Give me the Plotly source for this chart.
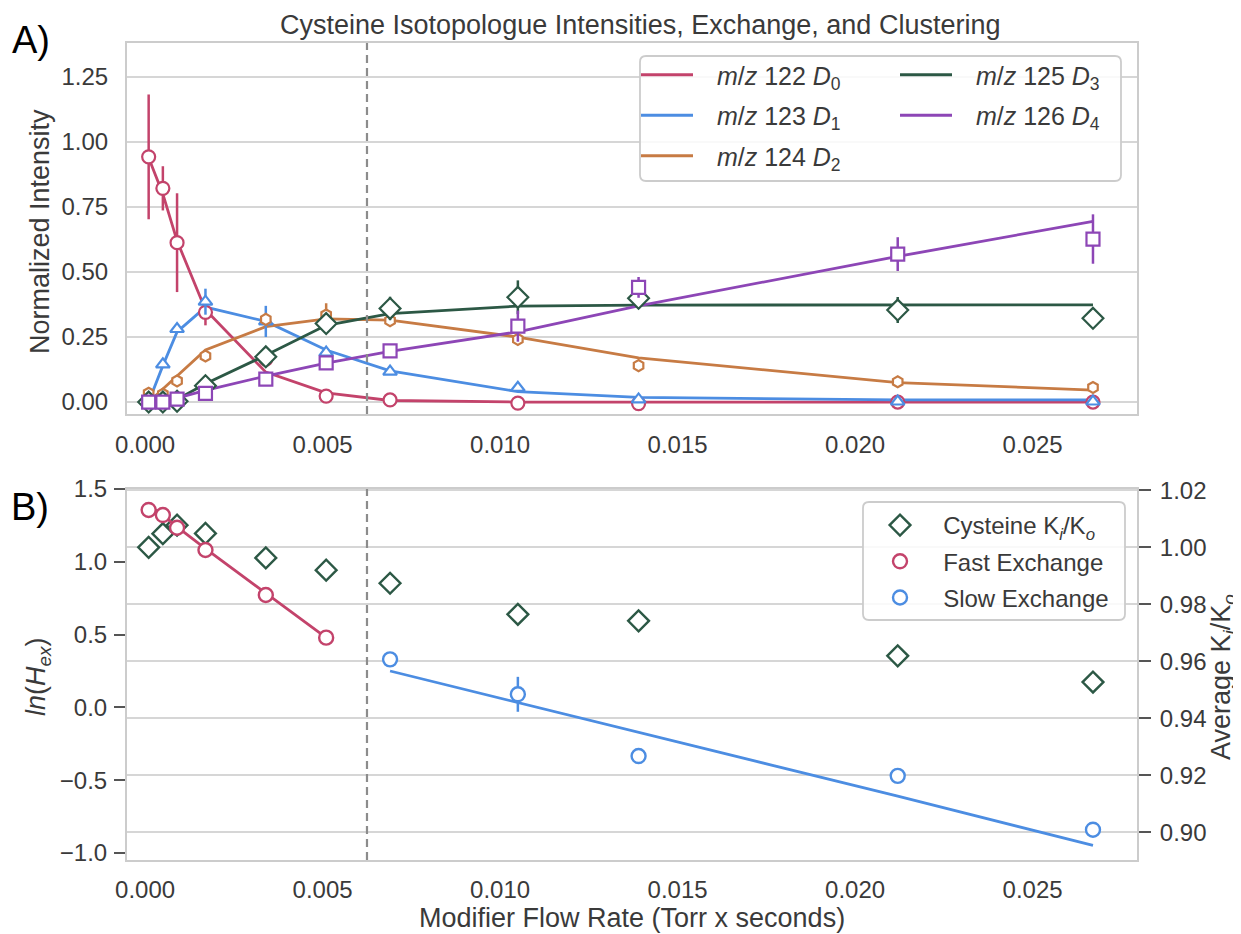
import plotly.graph_objects as go

# ---------------- data ----------------
flow = [0.0001, 0.0005, 0.0009, 0.0017, 0.0034, 0.0051, 0.0069, 0.0105, 0.0139, 0.0212, 0.0267]

d0 = [0.943, 0.822, 0.613, 0.345, 0.165, 0.023, 0.008, -0.004, -0.006, 0.0, 0.0]
d0_err = [0.24, 0.085, 0.19, 0.05, 0, 0, 0, 0, 0, 0, 0]
d0_fit = [0.94, 0.80, 0.62, 0.355, 0.115, 0.035, 0.006, 0.0, 0.0, 0.0, 0.0]

d1 = [0.0, 0.145, 0.281, 0.386, 0.31, 0.19, 0.117, 0.055, 0.01, 0.002, 0.002]
d1_err = [0, 0, 0, 0.05, 0.06, 0, 0, 0, 0, 0, 0]
d1_fit = [0.0, 0.14, 0.27, 0.365, 0.31, 0.20, 0.12, 0.04, 0.018, 0.008, 0.008]

d2 = [0.034, 0.03, 0.081, 0.177, 0.318, 0.335, 0.313, 0.241, 0.14, 0.078, 0.056]
d2_err = [0, 0, 0, 0, 0.02, 0.045, 0.02, 0.01, 0.02, 0.01, 0.01]
d2_fit = [0.0, 0.05, 0.10, 0.20, 0.29, 0.32, 0.315, 0.25, 0.17, 0.075, 0.046]

d3 = [0.0, 0.0, 0.003, 0.063, 0.174, 0.302, 0.36, 0.403, 0.399, 0.354, 0.322]
d3_err = [0, 0, 0, 0, 0.02, 0.02, 0.045, 0.065, 0.04, 0.05, 0.01]
d3_fit = [0.0, 0.002, 0.01, 0.07, 0.18, 0.295, 0.34, 0.369, 0.373, 0.374, 0.374]

d4 = [0.0, 0.0, 0.011, 0.033, 0.088, 0.151, 0.197, 0.292, 0.441, 0.569, 0.627]
d4_err = [0, 0, 0, 0, 0, 0.01, 0.01, 0.06, 0.04, 0.065, 0.095]
d4_fit = [0.0, 0.005, 0.015, 0.045, 0.10, 0.15, 0.195, 0.27, 0.37, 0.56, 0.695]

kiko = [1.000, 1.0048, 1.0078, 1.0049, 0.9963, 0.992, 0.9874, 0.9765, 0.9742, 0.9619, 0.9527]
kiko_err = [0.0005, 0.0005, 0.0005, 0.0005, 0.0005, 0.0005, 0.0005, 0.001, 0.003, 0.001, 0.001]

fast_x = flow[:6]
fast = [1.356, 1.321, 1.234, 1.081, 0.772, 0.479]
fast_fit = [1.39, 1.32, 1.24, 1.09, 0.785, 0.48]

slow_x = flow[6:]
slow = [0.330, 0.090, -0.334, -0.47, -0.84]
slow_err = [0.0, 0.12, 0.03, 0.02, 0.03]
slow_fit = [0.25, 0.034, -0.173, -0.61, -0.947]

cutoff = 0.00625

x_ticks = [0.0, 0.005, 0.010, 0.015, 0.020, 0.025]
x_tick_labels = ["0.000", "0.005", "0.010", "0.015", "0.020", "0.025"]
yA_ticks = [0.0, 0.25, 0.5, 0.75, 1.0, 1.25]
yA_tick_labels = ["0.00", "0.25", "0.50", "0.75", "1.00", "1.25"]
yB_ticks = [-1.0, -0.5, 0.0, 0.5, 1.0, 1.5]
yB_tick_labels = ["\u22121.0", "\u22120.5", "0.0", "0.5", "1.0", "1.5"]
yR_ticks = [0.90, 0.92, 0.94, 0.96, 0.98, 1.00, 1.02]
yR_tick_labels = ["0.90", "0.92", "0.94", "0.96", "0.98", "1.00", "1.02"]

SP = "\u00a0\u00a0\u2009"
names = [SP + "<i>m</i>/<i>z</i> 122 <i>D</i><sub>0</sub>",
         SP + "<i>m</i>/<i>z</i> 123 <i>D</i><sub>1</sub>",
         SP + "<i>m</i>/<i>z</i> 124 <i>D</i><sub>2</sub>",
         SP + "<i>m</i>/<i>z</i> 125 <i>D</i><sub>3</sub>",
         SP + "<i>m</i>/<i>z</i> 126 <i>D</i><sub>4</sub>"]
names_b = [SP + "Cysteine K<sub><i>i</i></sub>/K<sub><i>o</i></sub>",
           SP + "Fast Exchange",
           SP + "Slow Exchange"]

# ---------------- style ----------------
OFF = 8                      # page body margin
W, H = 1241 - OFF, 934 - OFF  # figure size so the page fits the window
RED = "#C3436B"
BLUE = "#4C8DE2"
ORANGE = "#C77B44"
GREEN = "#2C5845"
PURPLE = "#8D46B6"
TXT = "#3a3a3a"
GRID = "#d6d6d6"
FRAME = "#cccccc"
FONT = "Liberation Sans, Arial, sans-serif"

def px_x(p):
    return (p - OFF) / W

def px_y(p):
    return 1 - (p - OFF) / H

fig = go.Figure()

series = [
    (d0, d0_err, d0_fit, RED, "circle", 13, "legend"),
    (d1, d1_err, d1_fit, BLUE, "triangle-up", 12, "legend"),
    (d2, d2_err, d2_fit, ORANGE, "hexagon", 11, "legend"),
    (d3, d3_err, d3_fit, GREEN, "diamond", 16, "legend2"),
    (d4, d4_err, d4_fit, PURPLE, "square", 13, "legend2"),
]

for i, (vals, err, fit, col, sym, size, leg) in enumerate(series):
    fig.add_trace(go.Scatter(
        x=flow, y=fit, mode="lines", line=dict(color=col, width=2.8),
        name=names[i], legend=leg, legendgroup="g%d" % i,
        xaxis="x", yaxis="y", hoverinfo="skip"))

for i, (vals, err, fit, col, sym, size, leg) in enumerate(series):
    fig.add_trace(go.Scatter(
        x=flow, y=vals, mode="markers",
        marker=dict(symbol=sym, size=size, color="white", line=dict(color=col, width=2.2)),
        error_y=dict(type="data", array=err, visible=True, color=col, thickness=2.5, width=0),
        showlegend=False, xaxis="x", yaxis="y"))

# bottom panel
fig.add_trace(go.Scatter(
    x=flow, y=kiko, mode="markers", name=names_b[0],
    marker=dict(symbol="diamond", size=16, color="white", line=dict(color=GREEN, width=2.4)),
    error_y=dict(type="data", array=kiko_err, visible=True, color=GREEN, thickness=2.5, width=0),
    legend="legend3", legendgroup="b0", xaxis="x2", yaxis="y2"))

fig.add_trace(go.Scatter(
    x=fast_x, y=fast_fit, mode="lines", line=dict(color=RED, width=2.8),
    showlegend=False, xaxis="x2", yaxis="y3", hoverinfo="skip"))
fig.add_trace(go.Scatter(
    x=slow_x, y=slow_fit, mode="lines", line=dict(color=BLUE, width=2.8),
    showlegend=False, xaxis="x2", yaxis="y3", hoverinfo="skip"))

fig.add_trace(go.Scatter(
    x=fast_x, y=fast, mode="markers", name=names_b[1],
    marker=dict(symbol="circle", size=14, color="white", line=dict(color=RED, width=2.4)),
    legend="legend3", legendgroup="b1", xaxis="x2", yaxis="y3"))
fig.add_trace(go.Scatter(
    x=slow_x, y=slow, mode="markers", name=names_b[2],
    marker=dict(symbol="circle", size=14, color="white", line=dict(color=BLUE, width=2.4)),
    error_y=dict(type="data", array=slow_err, visible=True, color=BLUE, thickness=2.5, width=0),
    legend="legend3", legendgroup="b2", xaxis="x2", yaxis="y3"))

xdom = [px_x(127), px_x(1137)]
xrange_ = [-0.00051, 0.02794]

TF = dict(size=24, color=TXT, family=FONT)
axis_common = dict(showline=True, linecolor=FRAME, linewidth=2, mirror=True, zeroline=False, tickfont=TF)

fig.update_layout(
    width=W, height=H,
    margin=dict(l=0, r=0, t=0, b=0, autoexpand=False),
    paper_bgcolor="white", plot_bgcolor="white",
    font=dict(family=FONT, color=TXT),
    xaxis=dict(domain=xdom, range=xrange_, anchor="y", tickvals=x_ticks, ticktext=x_tick_labels,
               showgrid=False, ticks="", ticklabelstandoff=8, **axis_common),
    yaxis=dict(domain=[px_y(414), px_y(43)], range=[-0.046, 1.381], anchor="x",
               tickvals=yA_ticks, ticktext=yA_tick_labels, showgrid=True, gridcolor=GRID, gridwidth=2,
               ticks="", ticklabelstandoff=12, **axis_common),
    xaxis2=dict(domain=xdom, range=xrange_, anchor="y2", tickvals=x_ticks, ticktext=x_tick_labels,
                showgrid=False, ticks="", ticklabelstandoff=7, **axis_common),
    yaxis2=dict(domain=[px_y(860), px_y(489)], range=[0.8902, 1.0205], anchor="x2", side="right",
                tickvals=yR_ticks, ticktext=yR_tick_labels, showgrid=True, gridcolor=GRID, gridwidth=2,
                ticks="outside", ticklen=12, tickwidth=2, tickcolor="#555555", ticklabelstandoff=4,
                **axis_common),
    yaxis3=dict(range=[-1.048, 1.5], overlaying="y2", anchor="x2", side="left",
                tickvals=yB_ticks, ticktext=yB_tick_labels, showgrid=False,
                ticks="outside", ticklen=11, tickwidth=2, tickcolor="#555555", ticklabelstandoff=2,
                showline=True, linecolor=FRAME, linewidth=2, zeroline=False, tickfont=TF),
    legend=dict(x=px_x(636), y=px_y(52), xanchor="left", yanchor="top", bgcolor="rgba(0,0,0,0)",
                borderwidth=0, itemwidth=52, tracegroupgap=5,
                font=dict(size=25, color=TXT, family=FONT)),
    legend2=dict(x=px_x(895), y=px_y(52), xanchor="left", yanchor="top", bgcolor="rgba(0,0,0,0)",
                 borderwidth=0, itemwidth=52, tracegroupgap=5,
                 font=dict(size=25, color=TXT, family=FONT)),
    legend3=dict(x=px_x(875), y=px_y(503), xanchor="left", yanchor="top", bgcolor="rgba(0,0,0,0)",
                 borderwidth=0, itemwidth=40, tracegroupgap=2,
                 font=dict(size=24, color=TXT, family=FONT)),
)

def rounded_box(x0, y0, x1, y1, r=6):
    X0, X1 = px_x(x0), px_x(x1)
    Y0, Y1 = px_y(y0), px_y(y1)
    rx, ry = r / W, r / H
    return (f"M{X0+rx},{Y0} L{X1-rx},{Y0} Q{X1},{Y0} {X1},{Y0-ry} "
            f"L{X1},{Y1+ry} Q{X1},{Y1} {X1-rx},{Y1} L{X0+rx},{Y1} Q{X0},{Y1} {X0},{Y1+ry} "
            f"L{X0},{Y0-ry} Q{X0},{Y0} {X0+rx},{Y0} Z")

shapes = [
    dict(type="line", xref="x", yref="y domain", x0=cutoff, x1=cutoff, y0=0, y1=1,
         line=dict(color="#8c8c8c", width=2.2, dash="8px,5px"), layer="above"),
    dict(type="line", xref="x2", yref="y2 domain", x0=cutoff, x1=cutoff, y0=0, y1=1,
         line=dict(color="#8c8c8c", width=2.2, dash="8px,5px"), layer="above"),
    dict(type="path", xref="paper", yref="paper", path=rounded_box(640, 56, 1121, 181),
         line=dict(color=FRAME, width=1.8), fillcolor="rgba(255,255,255,0.85)", layer="above"),
    dict(type="path", xref="paper", yref="paper", path=rounded_box(863, 502, 1125, 620),
         line=dict(color=FRAME, width=1.8), fillcolor="rgba(255,255,255,0.85)", layer="above"),
]
fig.update_layout(shapes=shapes)

ann = [
    dict(text="Cysteine Isotopologue Intensities, Exchange, and Clustering", x=px_x(640), y=px_y(25),
         font=dict(size=27, color=TXT)),
    dict(text="A)", x=px_x(31), y=px_y(40), font=dict(size=38, color="black")),
    dict(text="B)", x=px_x(30), y=px_y(507), font=dict(size=38, color="black")),
    dict(text="Normalized Intensity", x=px_x(40), y=px_y(232), textangle=-90,
         font=dict(size=27, color=TXT)),
    dict(text="<i>ln</i>(<i>H</i><sub><i>ex</i></sub>)", x=px_x(38), y=px_y(677), textangle=-90,
         font=dict(size=27, color=TXT)),
    dict(text="Average K<sub><i>i</i></sub>/K<sub><i>o</i></sub>", x=px_x(1223), y=px_y(677),
         textangle=-90, font=dict(size=27, color=TXT)),
    dict(text="Modifier Flow Rate (Torr x seconds)", x=px_x(632), y=px_y(918),
         font=dict(size=27, color=TXT)),
]
for a in ann:
    a.update(xref="paper", yref="paper", showarrow=False, xanchor="center", yanchor="middle")
fig.update_layout(annotations=ann)

fig.write_html("out.html")
